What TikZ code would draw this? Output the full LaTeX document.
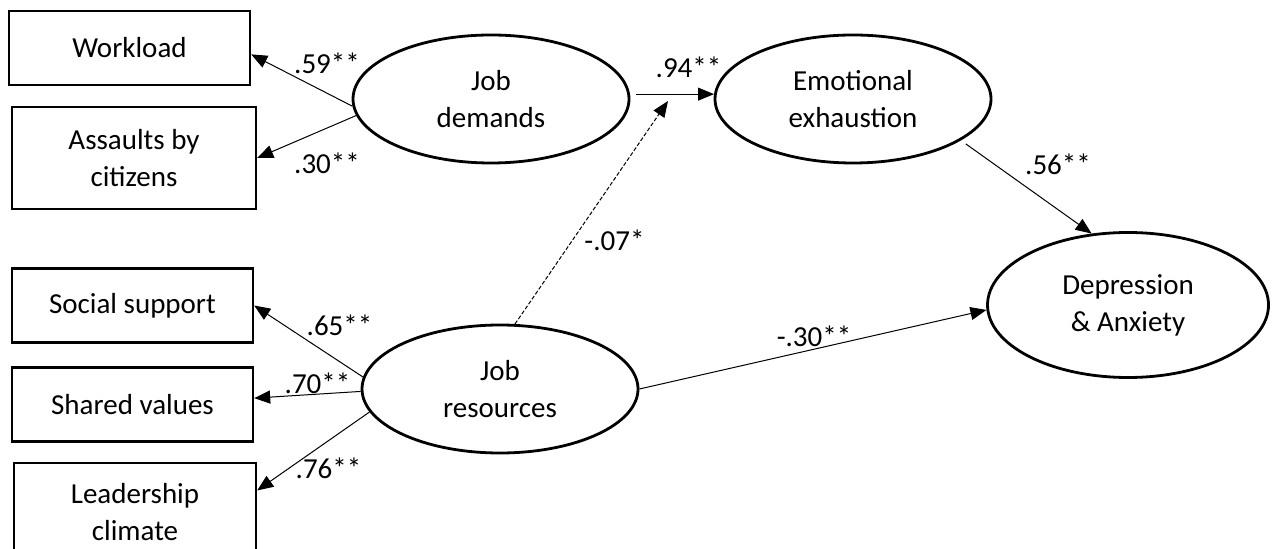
\documentclass[tikz,border=0pt]{standalone}
\usepackage{fontspec}
\setmainfont{Carlito}
\usetikzlibrary{shapes.geometric, arrows.meta}
\tikzstyle{indicator} = [rectangle, minimum width=120.5pt, minimum height=37pt, text centered, align=center, draw=black, line width=1.2pt, inner sep=0pt]
\tikzstyle{latent} = [ellipse, minimum width=138pt, minimum height=64pt, text centered, align=center, draw=black, line width=1.4pt, inner sep=0pt]
\tikzstyle{coef} = [inner sep=0pt]
\tikzstyle{arrow} = [line width=0.5pt, -{Triangle[length=8pt, width=6.5pt]}]
\tikzstyle{weak} = [arrow, dash pattern=on 2pt off 1pt]

\begin{document}
\begin{tikzpicture}[x=0.5pt, y=-0.5pt, node distance=49.5pt, font=\fontsize{14.5}{18.5}\selectfont]
\useasboundingbox (0,0) rectangle (1272,549);
\clip (0,0) rectangle (1272,549);
\node (jd) [latent] at (491,99) {Job\\demands};
\node (jr) [latent] at (500,389) {Job\\resources};
\node (em) [latent] at (853,99) {Emotional\\exhaustion};
\node (dep) [latent, minimum width=140.5pt, minimum height=72.5pt] at (1128,305) {Depression\\\& Anxiety};
\node (wl) [indicator] at (129.5,48) {Workload};
\node (as) [indicator, minimum width=122pt, minimum height=51pt] at (134,158) {Assaults by\\citizens};
\node (ss) [indicator] at (132.5,305.5) {Social support};
\node (sv) [indicator, below of=ss] {Shared values};
\node (lc) [indicator, below of=sv, minimum width=121pt, minimum height=49pt, xshift=1.25pt, yshift=-4.25pt] {Leadership\\climate};
\coordinate (jdem) at (668,101);
\draw [arrow] (jd.183) -- (wl.-3);
\draw [arrow] (jd.187) -- (as.east);
\draw [arrow] (jr.175) -- (ss.east);
\draw [arrow] (jr.181) -- (sv.3);
\draw [arrow] (jr.190) -- (lc.10);
\draw [arrow, shorten <=3pt] (jd.2) -- (em.178);
\draw [weak] (jr.77) -- (jdem);
\draw [arrow, shorten <=3pt] (em.-21) -- (dep.117);
\draw [arrow] (jr.east) -- (dep.182);
\node (c1) [coef] at (327,63) {.59**};
\node (c2) [coef] at (327,163) {.30**};
\node (c3) [coef] at (339.5,325) {.65**};
\node (c4) [coef] at (317.5,383) {.70**};
\node (c5) [coef] at (328.5,468) {.76**};
\node (c6) [coef] at (688.5,67) {.94**};
\node (c7) [coef] at (614.5,240) {-.07*};
\node (c8) [coef] at (1058,164) {.56**};
\node (c9) [coef] at (814,336) {-.30**};
\end{tikzpicture}
\end{document}
